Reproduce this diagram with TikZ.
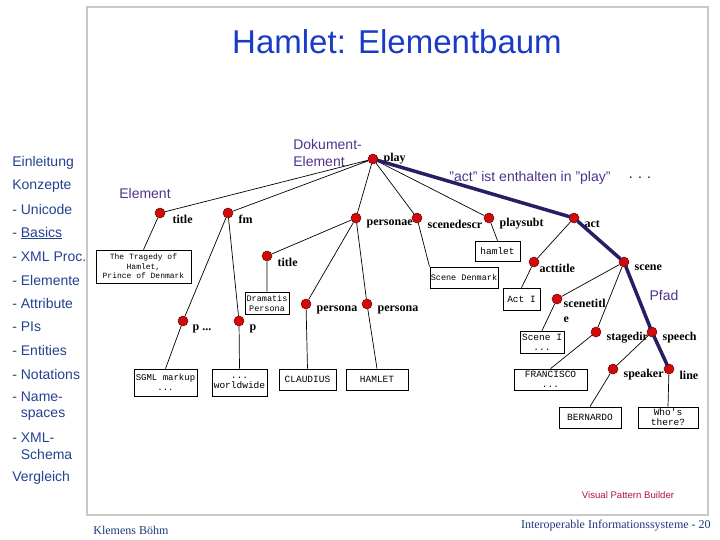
\documentclass[tikz,border=0pt]{standalone}
\usepackage{fontspec}
\setmainfont{Liberation Serif}
\setsansfont{Liberation Sans}
\setmonofont{Liberation Mono}
\usetikzlibrary{positioning}
\definecolor{menublue}{RGB}{35,65,145}
\definecolor{footblue}{RGB}{30,55,120}
\definecolor{titleblue}{RGB}{25,60,200}
\definecolor{notepurple}{RGB}{80,50,140}
\definecolor{pathnavy}{RGB}{40,30,100}
\definecolor{dotred}{RGB}{210,10,10}
\definecolor{vpbred}{RGB}{175,20,60}
\definecolor{framegray}{RGB}{200,200,200}
\tikzset{
  elem/.style={circle, inner sep=0pt, minimum size=10pt, fill=dotred,
    draw=dotred!50!black, line width=0.5pt}, % red dot of an element
  tag/.style={font=\bfseries\fontsize{12}{15}\selectfont, anchor=west,
    align=left, inner sep=0pt, xshift=5pt, yshift=-6pt}, % element name beside its dot
  leaf/.style={draw, rectangle, align=center, inner sep=1pt,
    font=\ttfamily\fontsize{9.5}{10}\selectfont}, % text content of a leaf
  menu/.style={font=\sffamily\fontsize{14}{16.5}\selectfont, text=menublue,
    anchor=west, inner sep=0pt, align=left}, % entries on the left side
  note/.style={font=\sffamily\fontsize{14}{17}\selectfont, text=notepurple,
    inner sep=0pt}, % purple remarks in the tree
}

\begin{document}
\begin{tikzpicture}[x=1pt, y=-1pt, line width=0.7pt,
    path/.style={line width=3.5pt, draw=pathnavy, line cap=round}]
    \useasboundingbox (0,0) rectangle (720,540);
    \draw[framegray, line width=2pt] (87,7) rectangle (708,515);

    \node[font=\sffamily\fontsize{33}{33}\selectfont, text=titleblue] (head) at (397,42) {Hamlet: Elementbaum};

    % left side menu
    \node[menu] (m_intro) at (12,163) {Einleitung};
    \node[menu] (m_concepts) at (12,186) {Konzepte};
    \node[menu] (m_unicode) at (12,209) {- Unicode};
    \node[menu] (m_basics) at (12,233) {- \underline{Basics}};
    \node[menu] (m_xmlproc) at (12,257) {- XML Proc.};
    \node[menu] (m_elements) at (12,280) {- Elemente};
    \node[menu] (m_attributes) at (12,303) {- Attribute};
    \node[menu] (m_pis) at (12,327) {- PIs};
    \node[menu] (m_entities) at (12,350) {- Entities};
    \node[menu] (m_notations) at (12,374) {- Notations};
    \node[menu] (m_namespaces) at (12,406) {- Name-\\\hphantom{- }spaces};
    \node[menu] (m_schema) at (12,446) {- XML-\\\hphantom{- }Schema};
    \node[menu] (m_compare) at (12,478) {Vergleich};

    % elements
    \node[elem, label={[tag, yshift=6pt]right:play}] (el_play) at (373,159) {};
    \node[elem, label={[tag, xshift=2pt]right:title}] (el_title) at (160,213) {};
    \node[elem, label={[tag]right:fm}] (el_fm) at (228,213) {};
    \node[elem, label={[tag]right:personae}] (el_personae) at (356,218) {};
    \node[elem, label={[tag]right:scenedescr}] (el_scenedescr) at (417,218) {};
    \node[elem, label={[tag]right:playsubt}] (el_playsubt) at (489,218) {};
    \node[elem, label={[tag]right:act}] (el_act) at (574,218) {};
    \node[elem, label={[tag]right:title}] (el_title2) at (267,256) {};
    \node[elem, label={[tag, xshift=-1pt, yshift=-2pt]right:p ...}] (el_p1) at (183,321) {};
    \node[elem, label={[tag, yshift=-2pt]right:p}] (el_p2) at (239,321) {};
    \node[elem, label={[tag]right:persona}] (el_persona1) at (306,304) {};
    \node[elem, label={[tag]right:persona}] (el_persona2) at (367,304) {};
    \node[elem, label={[tag, xshift=-5pt]right:acttitle}] (el_acttitle) at (534,262) {};
    \node[elem, label={[tag]right:scene}] (el_scene) at (624,262) {};
    \node[elem, label={[tag, xshift=-4pt, yshift=-6pt]right:{scenetitl\\e}}] (el_scenetitle) at (557,299) {};
    \node[elem, label={[tag]right:stagedir}] (el_stagedir) at (596,332) {};
    \node[elem, label={[tag]right:speech}] (el_speech) at (652,332) {};
    \node[elem, label={[tag]right:speaker}] (el_speaker) at (613,369) {};
    \node[elem, label={[tag]right:line}] (el_line) at (669,369) {};

    % leaf texts
    \node[leaf, font=\ttfamily\fontsize{8}{9.5}\selectfont, minimum width=95pt, minimum height=33pt] (box_tragedy) at (143.5,266.5) {The Tragedy of\\Hamlet,\\Prince of Denmark};
    \node[leaf, minimum width=45pt, minimum height=20pt] (box_hamlet) at (497.5,251) {hamlet};
    \node[leaf, font=\ttfamily\fontsize{8.5}{10}\selectfont, minimum width=68pt, minimum height=21pt] (box_denmark) at (464,277.5) {Scene Denmark};
    \node[leaf, font=\ttfamily\fontsize{8.5}{10}\selectfont, minimum width=44pt, minimum height=22pt] (box_dramatis) at (267,303) {Dramatis\\Persona};
    \node[leaf, font=\ttfamily\fontsize{9}{10}\selectfont, minimum width=63pt, minimum height=27pt] (box_sgml) at (165.5,382.5) {SGML markup\\...};
    \node[leaf, minimum width=55pt, minimum height=27pt] (box_worldwide) at (239.5,382.5) {...\\worldwide};
    \node[leaf, minimum width=57pt, minimum height=21pt] (box_claudius) at (307.5,379.5) {CLAUDIUS};
    \node[leaf, minimum width=62pt, minimum height=21pt] (box_prince) at (377,379.5) {HAMLET};
    \node[leaf, minimum width=37pt, minimum height=22pt] (box_acti) at (521.5,299) {Act I};
    \node[leaf, minimum width=44pt, minimum height=22pt] (box_scenei) at (542,342) {Scene I\\...};
    \node[leaf, minimum width=73pt, minimum height=21pt] (box_francisco) at (550.5,379.5) {FRANCISCO\\...};
    \node[leaf, minimum width=62pt, minimum height=21pt] (box_bernardo) at (590,417.5) {BERNARDO};
    \node[leaf, minimum width=60pt, minimum height=21pt] (box_whos) at (668,417.5) {Who's\\there?};

    % remarks
    \node[note, anchor=west, align=left] (n_docelem) at (293,153) {Dokument-\\Element};
    \node[note] (n_elem) at (145,193) {Element};
    \node[note] (n_contained) at (530,178) {"act" ist enthalten in "play"};
    \node[font=\sffamily\fontsize{14}{14}\selectfont] (n_more) at (640,178) {. . .};
    \node[note] (n_path) at (664,295) {Pfad};
    \node[font=\sffamily\fontsize{9.6}{10}\selectfont, text=vpbred] (n_vpb) at (628,495) {Visual Pattern Builder};

    % footer
    \node[font=\fontsize{12}{12}\selectfont, text=footblue, anchor=west, inner sep=0pt] (f_author) at (93,530) {Klemens Böhm};
    \node[font=\fontsize{12}{12}\selectfont, text=footblue, anchor=east, inner sep=0pt] (f_course) at (711,526) {Interoperable Informationssysteme - 20};

    \draw
    (el_play) -- (el_title)
    (el_play) -- (el_fm)
    (el_play) -- (el_personae)
    (el_play) -- (el_scenedescr)
    (el_play) -- (el_playsubt)
    (el_title) -- (box_tragedy.north)
    (el_fm) -- (el_p1) (el_fm) -- (el_p2)
    (el_p1) -- (box_sgml.north)
    (el_p2) -- (box_worldwide.north)
    (el_personae) -- (el_title2)
    (el_personae) -- (el_persona1)
    (el_personae) -- (el_persona2)
    (el_title2) -- (box_dramatis.north)
    (el_persona1) -- (box_claudius.north)
    (el_persona2) -- (box_prince.north)
    (el_scenedescr) -- (box_denmark.north west)
    (el_playsubt) -- (box_hamlet.north)
    (el_act) -- (el_acttitle)
    (el_acttitle) -- (box_acti.north)
    (el_scene) -- (el_scenetitle)
    (el_scene) -- (el_stagedir)
    (el_scenetitle) -- (box_scenei.north)
    (el_stagedir) -- (box_francisco.north)
    (el_speech) -- (el_speaker)
    (el_speaker) -- (box_bernardo.north)
    (el_line) -- (box_whos.north)
    ;
    \draw[path] (el_play) -- (el_act) -- (el_scene) -- (el_speech) -- (el_line);
\end{tikzpicture}
\end{document}
